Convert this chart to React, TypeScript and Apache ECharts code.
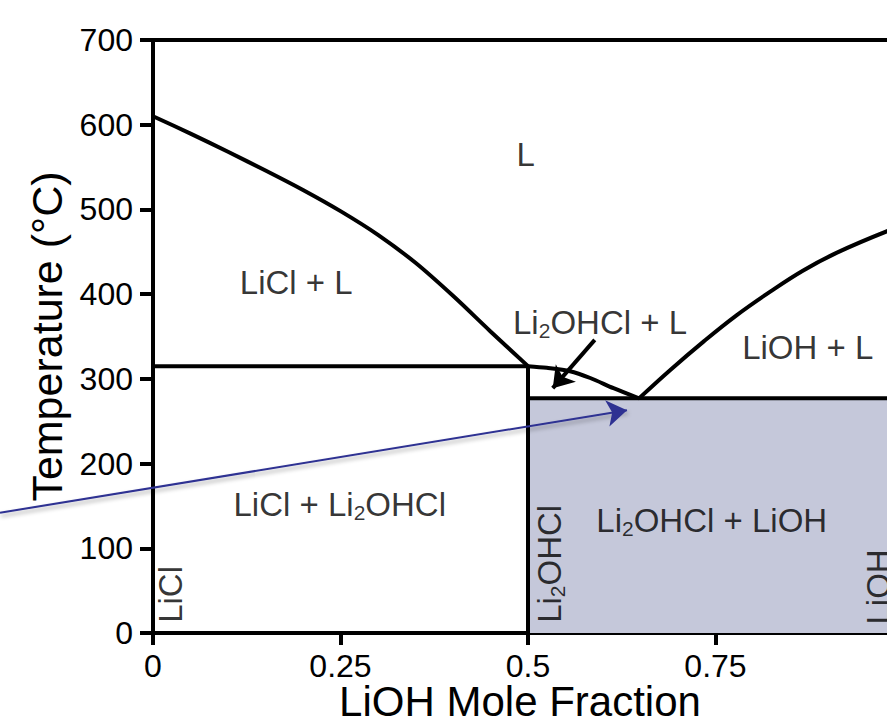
import React, { useEffect, useRef } from "react";
import * as echarts from "echarts";

// ---- data ----
const xTicks = [0, 0.25, 0.5, 0.75, 1];
const yTicks = [0, 100, 200, 300, 400, 500, 600, 700];

const liclLiquidusX = [0, 0.05, 0.1, 0.15, 0.2, 0.25, 0.3, 0.35, 0.4, 0.45, 0.5];
const liclLiquidusT = [610, 589.5, 568, 546, 523, 498, 470, 437, 398, 356, 315];

const li2ohclLiquidusX = [0.5, 0.525, 0.556, 0.583, 0.614, 0.648];
const li2ohclLiquidusT = [315, 313, 309, 301, 289, 277];

const liohLiquidusX = [0.648, 0.689, 0.734, 0.778, 0.823, 0.867, 0.912, 0.978, 1.0];
const liohLiquidusT = [277, 310, 344, 375, 403, 428, 449, 474, 480];

const peritecticT = 315;
const eutecticT = 277;
const compoundX = 0.5;

const regionNames = ["L", "LiCl + L", "Li{s|2}OHCl + L", "LiOH + L", "LiCl + Li{s|2}OHCl", "Li{s|2}OHCl + LiOH"];
const regionX = [0.497, 0.191, 0.596, 0.873, 0.249, 0.745];
const regionT = [565, 414, 367, 337, 152, 133];

const phaseNames = ["LiCl", "Li{s|2}OHCl", "LiOH"];
const phaseX = [0.023, 0.528, 0.967];
const phaseT = [12, 12, 10];

const blackArrowX = [0.589, 0.533];
const blackArrowT = [346, 289];
const blueArrowX = [-0.204, 0.632];
const blueArrowT = [142, 263];

const FONT = "'Liberation Sans', Arial, Helvetica, sans-serif";

const zip = (xs: number[], ys: number[]) => xs.map((x, i) => [x, ys[i]]);

export default function App() {
  const ref = useRef<HTMLDivElement>(null);
  useEffect(() => {
    if (!ref.current) return;
    const chart = echarts.init(ref.current, undefined, { renderer: "svg" });
    const lineBase = {
      type: "line",
      showSymbol: false,
      symbol: "none",
      silent: true,
      lineStyle: { color: "#000", width: 4 },
      z: 5,
    };
    const rich = {
      s: { fontSize: 21, fontFamily: FONT, color: "#000", padding: [16, 0, 0, 0] },
    };
    const option: any = {
      animation: false,
      backgroundColor: "#fff",
      grid: {
        left: 153,
        top: 40,
        width: 750,
        height: 593,
        show: true,
        borderColor: "#000",
        borderWidth: 4,
        backgroundColor: "transparent",
        containLabel: false,
        outerBoundsMode: "none",
      },
      xAxis: {
        type: "value",
        min: xTicks[0],
        max: xTicks[xTicks.length - 1],
        interval: 0.25,
        name: "LiOH Mole Fraction",
        nameLocation: "middle",
        nameGap: 47,
        nameMoveOverlap: false,
        nameTextStyle: { fontSize: 42, fontFamily: FONT, color: "#000", padding: [0, 16, 0, 0] },
        axisLine: { show: true, lineStyle: { color: "#000", width: 4 } },
        axisTick: { show: true, length: 12, lineStyle: { color: "#000", width: 4 } },
        axisLabel: { fontSize: 32, fontFamily: FONT, color: "#000", margin: 17, showMaxLabel: false },
        splitLine: { show: false },
      },
      yAxis: {
        type: "value",
        min: yTicks[0],
        max: yTicks[yTicks.length - 1],
        interval: 100,
        name: "Temperature (°C)",
        nameLocation: "middle",
        nameGap: 79,
        nameTextStyle: { fontSize: 43, fontFamily: FONT, color: "#000" },
        axisLine: { show: true, lineStyle: { color: "#000", width: 4 } },
        axisTick: { show: true, length: 13, lineStyle: { color: "#000", width: 4 } },
        axisLabel: { fontSize: 32, fontFamily: FONT, color: "#000", margin: 20 },
        splitLine: { show: false },
      },
      series: [
        {
          ...lineBase,
          name: "shade",
          data: [],
          markArea: {
            silent: true,
            itemStyle: { color: "#c5c8da" },
            data: [[{ coord: [compoundX, 0] }, { coord: [1, eutecticT] }]],
          },
          z: 1,
        },
        { ...lineBase, name: "LiCl liquidus", smooth: 0.3, data: zip(liclLiquidusX, liclLiquidusT) },
        { ...lineBase, name: "Li2OHCl liquidus", smooth: 0.3, data: zip(li2ohclLiquidusX, li2ohclLiquidusT) },
        { ...lineBase, name: "LiOH liquidus", smooth: 0.4, data: zip(liohLiquidusX, liohLiquidusT) },
        { ...lineBase, name: "peritectic", data: [[0, peritecticT], [compoundX, peritecticT]] },
        { ...lineBase, name: "compound", data: [[compoundX, 0], [compoundX, peritecticT]] },
        { ...lineBase, name: "eutectic", data: [[compoundX, eutecticT], [1, eutecticT]] },
        {
          type: "scatter",
          silent: true,
          symbolSize: 1,
          itemStyle: { color: "rgba(0,0,0,0)" },
          z: 10,
          label: {
            show: true,
            position: "inside",
            align: "center",
            verticalAlign: "middle",
            fontSize: 33,
            fontFamily: FONT,
            color: "#000",
            formatter: (p: any) => regionNames[p.dataIndex],
            rich,
          },
          data: zip(regionX, regionT),
        },
        {
          type: "scatter",
          silent: true,
          symbolSize: 1,
          itemStyle: { color: "rgba(0,0,0,0)" },
          z: 10,
          label: {
            show: true,
            position: "inside",
            align: "left",
            verticalAlign: "middle",
            rotate: 90,
            fontSize: 33,
            fontFamily: FONT,
            color: "#000",
            formatter: (p: any) => phaseNames[p.dataIndex],
            rich,
          },
          data: zip(phaseX, phaseT),
        },
        {
          type: "lines",
          coordinateSystem: "cartesian2d",
          silent: true,
          clip: false,
          z: 12,
          symbol: ["none", "arrow"],
          symbolSize: [16, 20],
          lineStyle: { color: "#000", width: 4, opacity: 1 },
          data: [{ coords: zip(blackArrowX, blackArrowT) }],
        },
        {
          type: "lines",
          coordinateSystem: "cartesian2d",
          silent: true,
          clip: false,
          z: 12,
          symbol: ["none", "arrow"],
          symbolSize: [16, 20],
          lineStyle: {
            color: "#2e3192",
            width: 2,
            opacity: 1,
            shadowColor: "rgba(0,0,0,0.35)",
            shadowBlur: 4,
            shadowOffsetX: 1,
            shadowOffsetY: 3,
          },
          data: [{ coords: zip(blueArrowX, blueArrowT) }],
        },
      ],
    };
    chart.setOption(option);
    return () => chart.dispose();
  }, []);
  return (
    <div
      ref={ref}
      style={{ position: "fixed", left: 0, top: 0, width: 887, height: 726, background: "#fff" }}
    />
  );
}
